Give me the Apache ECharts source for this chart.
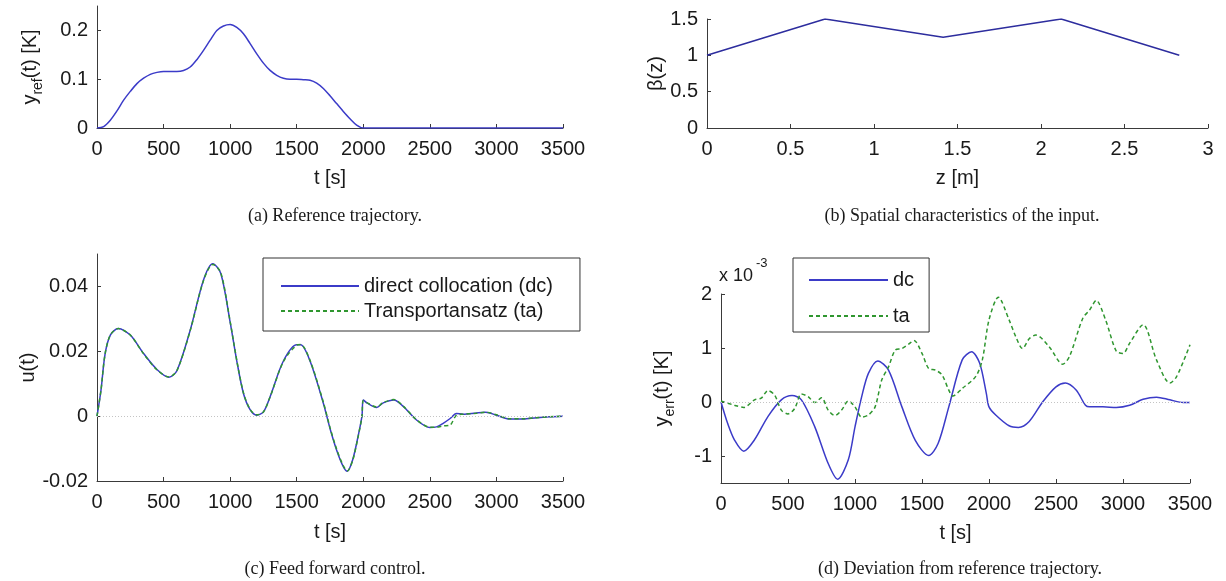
<!DOCTYPE html>
<html>
<head>
<meta charset="utf-8">
<style>
  html, body { margin: 0; padding: 0; background: #fff; }
  #main { width: 1226px; height: 581px; }
</style>
</head>
<body>
<div id="main"></div>
<script src="https://cdn.jsdelivr.net/npm/echarts@6/dist/echarts.min.js"></script>
<script>
// (a) reference trajectory
var tRef = [0, 50, 100, 150, 200, 250, 300, 350, 400, 450, 500, 550, 600, 650, 700, 750, 800, 850, 900, 950,
            1000, 1050, 1100, 1150, 1200, 1250, 1300, 1350, 1400, 1450, 1500, 1550, 1600, 1650, 1700, 1750,
            1800, 1850, 1900, 1950, 2000, 2100, 3500];
var yRef = [0, 0.003, 0.016, 0.035, 0.057, 0.075, 0.091, 0.102, 0.110, 0.114, 0.116, 0.116, 0.116, 0.118, 0.125,
            0.140, 0.159, 0.180, 0.200, 0.209, 0.212, 0.206, 0.193, 0.173, 0.152, 0.133, 0.118, 0.108, 0.102,
            0.100, 0.100, 0.099, 0.098, 0.092, 0.081, 0.066, 0.050, 0.034, 0.019, 0.006, 0, 0, 0];

// (b) spatial characteristics of the input
var zPos = [0, 0.707, 1.414, 2.121, 2.828];
var beta = [1, 1.5, 1.25, 1.5, 1];

// (c) feed forward control
var tU = [0, 30, 60, 100, 160, 250, 350, 450, 540, 600, 700, 800, 870, 930, 1000, 1050, 1100, 1150, 1200, 1250,
          1300, 1400, 1500, 1530, 1600, 1700, 1750, 1800, 1850, 1880, 1920, 1960, 1990, 2000, 2030, 2100, 2150,
          2230, 2300, 2400, 2500, 2550, 2600, 2650, 2700, 2750, 2850, 2920, 3000, 3100, 3200, 3300, 3400, 3500];
var uDc = [0, 0.008, 0.019, 0.025, 0.027, 0.025, 0.0193, 0.0144, 0.012, 0.014, 0.0265, 0.042, 0.047, 0.044,
           0.029, 0.017, 0.007, 0.002, 0.0003, 0.0013, 0.006, 0.017, 0.022, 0.022, 0.017, 0.004, -0.0038,
           -0.0105, -0.0156, -0.017, -0.0135, -0.0064, 0, 0.005, 0.004, 0.0027, 0.0041, 0.005, 0.003, -0.0012,
           -0.0035, -0.0033, -0.0022, -0.0008, 0.0008, 0.0006, 0.001, 0.0012, 0.0003, -0.0009, -0.0009,
           -0.0005, -0.0002, 0];
var uTa = [0, 0.008, 0.019, 0.025, 0.027, 0.025, 0.0192, 0.0143, 0.0121, 0.014, 0.0264, 0.0418, 0.0468, 0.0442,
           0.0292, 0.0172, 0.0072, 0.0021, 0.0004, 0.0013, 0.0059, 0.0168, 0.0219, 0.0221, 0.0172, 0.0043,
           -0.0035, -0.0102, -0.0153, -0.0169, -0.0137, -0.0066, -0.0001, 0.0048, 0.0041, 0.0028, 0.0042,
           0.0051, 0.0031, -0.0011, -0.0034, -0.0034, -0.003, -0.0028, 0.0003, 0.0006, 0.0009, 0.0012, 0.0004,
           -0.0008, -0.0008, -0.0005, -0.0002, 0];

// (d) deviation from reference trajectory (x 10^-3 K)
var tEdc = [0, 50, 100, 170, 250, 350, 450, 530, 600, 700, 800, 870, 950, 1000, 1050, 1100, 1170, 1250, 1350,
            1450, 1550, 1620, 1700, 1800, 1870, 1930, 1980, 2000, 2050, 2150, 2220, 2300, 2400, 2500, 2570,
            2650, 2720, 2750, 2850, 2950, 3050, 3150, 3250, 3350, 3450, 3500];
var eDc = [0, -0.4, -0.7, -0.91, -0.7, -0.27, 0.04, 0.12, 0.04, -0.46, -1.14, -1.43, -1.07, -0.46, 0.1, 0.53,
           0.76, 0.59, -0.09, -0.71, -0.99, -0.77, -0.09, 0.78, 0.93, 0.72, 0.16, -0.09, -0.24, -0.44, -0.47,
           -0.36, 0, 0.28, 0.35, 0.22, -0.06, -0.09, -0.09, -0.1, -0.06, 0.05, 0.09, 0.04, -0.01, -0.01];
var tEta = [0, 100, 170, 250, 300, 350, 400, 450, 500, 550, 600, 650, 700, 750, 800, 850, 900, 950, 1000, 1050,
            1100, 1150, 1200, 1250, 1300, 1350, 1400, 1440, 1500, 1550, 1600, 1650, 1700, 1730, 1800, 1900,
            1950, 2000, 2070, 2150, 2200, 2250, 2300, 2350, 2450, 2550, 2600, 2700, 2750, 2800, 2870, 2950,
            3000, 3050, 3150, 3250, 3350, 3400, 3500];
var eTa = [0.02, -0.06, -0.1, 0.04, 0.07, 0.21, 0.13, -0.15, -0.22, -0.12, 0.15, 0.1, -0.01, 0.08, -0.15, -0.25,
           -0.15, 0.02, -0.09, -0.28, -0.24, -0.09, 0.41, 0.65, 0.96, 0.99, 1.07, 1.14, 0.9, 0.62, 0.59, 0.5,
           0.22, 0.11, 0.25, 0.47, 0.78, 1.52, 1.94, 1.52, 1.21, 0.99, 1.17, 1.24, 1.02, 0.7, 0.84, 1.55, 1.7,
           1.88, 1.52, 0.94, 0.9, 1.09, 1.43, 0.78, 0.35, 0.47, 1.06];

var tTicks = [0, 500, 1000, 1500, 2000, 2500, 3000, 3500];
var zTicks = [0, 0.5, 1, 1.5, 2, 2.5, 3];
var yRefTicks = [0, 0.1, 0.2];
var betaTicks = [0, 0.5, 1, 1.5];
var uTicks = [-0.02, 0, 0.02, 0.04];
var eTicks = [-1, 0, 1, 2];

function zip(xs, ys) {
  return xs.map(function (x, i) { return [x, ys[i]]; });
}

var FONT = 'Liberation Sans';
var axisCol = '#3a3a3a';
var blue = '#3b3bc8';
var green = '#2f962f';
var plain = function (v) { return String(v); };

function xAx(idx, min, max, ticks, name, gap) {
  return {
    type: 'value', gridIndex: idx, min: min, max: max,
    name: name, nameLocation: 'middle', nameGap: gap,
    nameTextStyle: { fontFamily: FONT, fontSize: 20, color: '#1a1a1a' },
    axisLine: { show: true, onZero: false, lineStyle: { color: axisCol, width: 1 } },
    axisTick: { show: true, inside: true, length: 4, customValues: ticks, lineStyle: { color: axisCol } },
    axisLabel: { customValues: ticks, formatter: plain, margin: 11, fontFamily: FONT, fontSize: 20, color: '#1a1a1a' },
    splitLine: { show: false }
  };
}
function yAx(idx, min, max, ticks, name, gap, rich) {
  return {
    type: 'value', gridIndex: idx, min: min, max: max,
    name: name, nameLocation: 'middle', nameGap: gap, nameRotate: 90,
    nameTextStyle: { fontFamily: FONT, fontSize: 20, color: '#1a1a1a', rich: rich },
    axisLine: { show: true, onZero: false, lineStyle: { color: axisCol, width: 1 } },
    axisTick: { show: true, inside: true, length: 4, customValues: ticks, lineStyle: { color: axisCol } },
    axisLabel: { customValues: ticks, formatter: plain, margin: 9, fontFamily: FONT, fontSize: 20, color: '#1a1a1a' },
    splitLine: { show: false }
  };
}
var subRich = {
  n: { fontFamily: FONT, fontSize: 20, lineHeight: 30, color: '#1a1a1a' },
  s: { fontFamily: FONT, fontSize: 14, lineHeight: 30, verticalAlign: 'bottom', color: '#1a1a1a' }
};
var zeroStyle = { color: '#c4c4c4', type: [1, 2], width: 1, opacity: 1 };
var zeroLine = {
  silent: true, symbol: ['none', 'none'], label: { show: false },
  lineStyle: zeroStyle,
  emphasis: { disabled: true },
  data: [{ yAxis: 0, lineStyle: zeroStyle }]
};
var capStyle = { fontFamily: 'Liberation Serif', fontSize: 18, fontWeight: 'normal', color: '#1a1a1a' };

var chart = echarts.init(document.getElementById('main'));
chart.setOption({
  backgroundColor: '#fff',
  animation: false,
  title: [
    { text: '(a) Reference trajectory.', left: 330, top: 202, textAlign: 'center', textStyle: capStyle },
    { text: '(b) Spatial characteristics of the input.', left: 957, top: 202, textAlign: 'center', textStyle: capStyle },
    { text: '(c) Feed forward control.', left: 330, top: 555, textAlign: 'center', textStyle: capStyle },
    { text: '(d) Deviation from reference trajectory.', left: 955, top: 555, textAlign: 'center', textStyle: capStyle },
    { text: 'x 10', left: 719, top: 267, padding: 0,
      textStyle: { fontFamily: FONT, fontSize: 18, fontWeight: 'normal', color: '#1a1a1a' } },
    { text: '-3', left: 756, top: 257, padding: 0,
      textStyle: { fontFamily: FONT, fontSize: 13, fontWeight: 'normal', color: '#1a1a1a' } }
  ],
  grid: [
    { left: 97, top: 6, width: 466, height: 122 },
    { left: 707, top: 19, width: 501, height: 109 },
    { left: 97, top: 254, width: 466, height: 227 },
    { left: 721, top: 294, width: 469, height: 189 }
  ],
  legend: [
    {
      data: ['direct collocation (dc)', 'Transportansatz (ta)'],
      orient: 'vertical', left: 263, top: 258, itemWidth: 78, itemHeight: 20, itemGap: 5,
      padding: [18, 27, 10, 17], borderColor: '#333', borderWidth: 1, borderRadius: 0,
      backgroundColor: '#fff', itemStyle: { opacity: 0 },
      textStyle: { fontFamily: FONT, fontSize: 20, color: '#1a1a1a', lineHeight: 20 }
    },
    {
      data: ['dc', 'ta'],
      orient: 'vertical', left: 793, top: 258, itemWidth: 79, itemHeight: 20, itemGap: 16,
      padding: [12, 15, 6, 15], borderColor: '#333', borderWidth: 1, borderRadius: 0,
      backgroundColor: '#fff', itemStyle: { opacity: 0 },
      textStyle: { fontFamily: FONT, fontSize: 20, color: '#1a1a1a', lineHeight: 20 }
    }
  ],
  xAxis: [
    xAx(0, 0, 3500, tTicks, 't [s]', 40),
    xAx(1, 0, 3, zTicks, 'z [m]', 40),
    xAx(2, 0, 3500, tTicks, 't [s]', 41),
    xAx(3, 0, 3500, tTicks, 't [s]', 40)
  ],
  yAxis: [
    yAx(0, 0, 0.25, yRefTicks, '{n|y}{s|ref}{n|(t) [K]}', 52, subRich),
    yAx(1, 0, 1.5, betaTicks, 'β(z)', 40),
    yAx(2, -0.02, 0.05, uTicks, 'u(t)', 58),
    yAx(3, -1.5, 2, eTicks, '{n|y}{s|err}{n|(t) [K]}', 44, subRich)
  ],
  series: [
    { type: 'line', xAxisIndex: 0, yAxisIndex: 0, data: zip(tRef, yRef), smooth: 0.3, symbol: 'none',
      lineStyle: { color: blue, width: 1.5 }, itemStyle: { color: blue } },
    { type: 'line', xAxisIndex: 1, yAxisIndex: 1, data: zip(zPos, beta), symbol: 'none',
      lineStyle: { color: '#2d2d9e', width: 1.5 }, itemStyle: { color: '#2d2d9e' } },
    { name: 'direct collocation (dc)', type: 'line', xAxisIndex: 2, yAxisIndex: 2, data: zip(tU, uDc),
      smooth: 0.3, symbol: 'none', lineStyle: { color: blue, width: 1.5 }, itemStyle: { color: blue },
      markLine: zeroLine, z: 3 },
    { name: 'Transportansatz (ta)', type: 'line', xAxisIndex: 2, yAxisIndex: 2, data: zip(tU, uTa),
      smooth: 0.3, symbol: 'none', lineStyle: { color: green, width: 1.5, type: [4, 3] }, itemStyle: { color: green }, z: 4 },
    { name: 'dc', type: 'line', xAxisIndex: 3, yAxisIndex: 3, data: zip(tEdc, eDc),
      smooth: 0.3, symbol: 'none', lineStyle: { color: blue, width: 1.5 }, itemStyle: { color: blue },
      markLine: zeroLine, z: 3 },
    { name: 'ta', type: 'line', xAxisIndex: 3, yAxisIndex: 3, data: zip(tEta, eTa),
      smooth: 0.3, symbol: 'none', lineStyle: { color: green, width: 1.5, type: [4, 3] }, itemStyle: { color: green }, z: 4 }
  ]
});
</script>
</body>
</html>
